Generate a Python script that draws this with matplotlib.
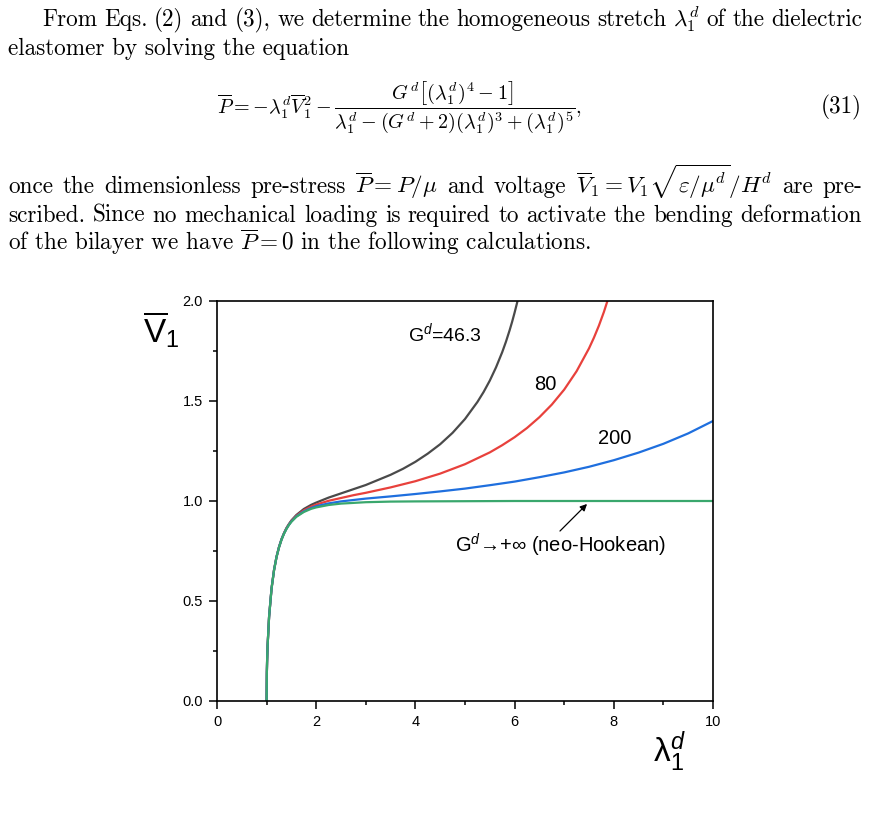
import matplotlib
matplotlib.use("Agg")
import matplotlib.pyplot as plt
from matplotlib.ticker import MultipleLocator, FormatStrFormatter

# curves V1(lambda)
lam_46 = [1.0, 1.005, 1.01, 1.02, 1.05, 1.1, 1.15, 1.2, 1.25, 1.3, 1.35, 1.4, 1.45, 1.5, 1.6, 1.75, 1.9, 2.0,
          2.25, 2.5, 3.0, 3.5, 3.75, 4.0, 4.25, 4.5, 4.75, 5.0, 5.25, 5.375, 5.5, 5.625, 5.75, 5.825, 5.9,
          5.95, 6.0, 6.05, 6.1]
v_46 = [0.0, 0.141, 0.198, 0.276, 0.421, 0.563, 0.655, 0.721, 0.770, 0.809, 0.839, 0.865, 0.885, 0.903, 0.930,
        0.960, 0.981, 0.992, 1.017, 1.038, 1.080, 1.131, 1.161, 1.196, 1.237, 1.284, 1.341, 1.410, 1.495, 1.545,
        1.602, 1.668, 1.744, 1.796, 1.854, 1.896, 1.942, 1.991, 2.045]

lam_80 = [1.0, 1.005, 1.01, 1.02, 1.05, 1.1, 1.15, 1.2, 1.25, 1.3, 1.35, 1.4, 1.45, 1.5, 1.6, 1.75, 1.9, 2.0,
          2.25, 2.5, 2.75, 3.0, 3.5, 4.0, 4.5, 5.0, 5.5, 5.75, 6.0, 6.25, 6.5, 6.75, 7.0, 7.25, 7.5, 7.6, 7.7,
          7.8, 7.9]
v_80 = [0.0, 0.141, 0.198, 0.276, 0.421, 0.563, 0.655, 0.720, 0.769, 0.807, 0.838, 0.863, 0.883, 0.900, 0.926,
        0.953, 0.972, 0.982, 1.001, 1.015, 1.029, 1.041, 1.068, 1.099, 1.137, 1.184, 1.243, 1.279, 1.319, 1.365,
        1.419, 1.482, 1.557, 1.649, 1.763, 1.817, 1.877, 1.945, 2.022]

lam_200 = [1.0, 1.005, 1.01, 1.02, 1.05, 1.1, 1.15, 1.2, 1.25, 1.3, 1.35, 1.4, 1.45, 1.5, 1.6, 1.75, 1.9, 2.0,
           2.25, 2.5, 3.0, 3.5, 4.0, 4.5, 5.0, 5.5, 6.0, 6.5, 7.0, 7.5, 8.0, 8.5, 9.0, 9.5, 10.0]
v_200 = [0.0, 0.141, 0.198, 0.276, 0.421, 0.563, 0.655, 0.720, 0.769, 0.807, 0.837, 0.861, 0.881, 0.898, 0.923,
         0.948, 0.965, 0.974, 0.988, 0.998, 1.012, 1.023, 1.035, 1.048, 1.062, 1.079, 1.097, 1.119, 1.143, 1.171,
         1.204, 1.242, 1.286, 1.338, 1.400]

lam_neo = [1.0, 1.005, 1.01, 1.02, 1.05, 1.1, 1.15, 1.2, 1.25, 1.3, 1.35, 1.4, 1.45, 1.5, 1.6, 1.75, 1.9, 2.0,
           2.25, 2.5, 3.0, 3.5, 4.0, 5.0, 6.0, 7.0, 8.0, 9.0, 10.0]
v_neo = [0.0, 0.141, 0.198, 0.276, 0.421, 0.563, 0.654, 0.720, 0.768, 0.806, 0.836, 0.860, 0.880, 0.896, 0.921,
         0.945, 0.961, 0.968, 0.980, 0.987, 0.994, 0.997, 0.998, 0.999, 1.000, 1.000, 1.000, 1.000, 1.000]

x_ticks = [0, 2, 4, 6, 8, 10]
y_ticks = [0.0, 0.5, 1.0, 1.5, 2.0]

line1 = ["From", "Eqs.", "(2)", "and", "(3),", "we", "determine", "the", "homogeneous", "stretch",
         r"$\lambda_1^d$", "of", "the", "dielectric"]
line2 = "elastomer by solving the equation"
line3 = ["once", "the", "dimensionless", "pre-stress", r"$\overline{P}=P/\mu$", "and", "voltage",
         r"$\overline{V}_1=V_1\sqrt{\varepsilon/\mu^d}/H^d$", "are", "pre-"]
line4 = ["scribed.", "Since", "no", "mechanical", "loading", "is", "required", "to", "activate", "the",
         "bending", "deformation"]
line5 = r"of the bilayer we have $\overline{P}=0$ in the following calculations."
equation = (r"$\overline{P}=-\lambda_1^d\overline{V}_1^2-\dfrac{G^d\left[(\lambda_1^d)^4-1\right]}"
            r"{\lambda_1^d-(G^d+2)(\lambda_1^d)^3+(\lambda_1^d)^5},$")

plt.rcParams['font.family'] = ['Liberation Sans', 'DejaVu Sans']
plt.rcParams['mathtext.fontset'] = 'custom'
plt.rcParams['mathtext.rm'] = 'Liberation Sans'
plt.rcParams['mathtext.it'] = 'Liberation Sans:italic'
plt.rcParams['mathtext.bf'] = 'Liberation Sans:bold'

W, H = 869, 814
fig = plt.figure(figsize=(W / 100, H / 100), dpi=100)


def fx(px):
    return px / W


def fy(py):
    return 1 - py / H


body_fs = 16.7
renderer = fig.canvas.get_renderer()


def body_text(x, y, s, fs=body_fs, **kw):
    return fig.text(fx(x), fy(y), s, fontsize=fs, family='cmr10', math_fontfamily='cm',
                    va='baseline', **kw)


def justified(tokens, x0, x1, ybase):
    items = [body_text(x0, ybase, t, ha='left') for t in tokens]
    widths = [it.get_window_extent(renderer).width for it in items]
    gap = (x1 - x0 - sum(widths)) / (len(items) - 1)
    x = x0
    for it, w in zip(items, widths):
        it.set_x(fx(x))
        x += w + gap


justified(line1, 42, 862, 26)
body_text(8, 55, line2, ha='left')
body_text(399, 113, equation, fs=14.5, ha='center')
body_text(862, 113, "(31)", ha='right')
justified(line3, 8, 862, 193)
justified(line4, 8, 862, 222)
body_text(8, 250, line5, ha='left')

# chart
ax = fig.add_axes([fx(217), fy(701), (713 - 217) / W, (701 - 301) / H])
ax.plot(lam_46, v_46, color='#4a4a4a', lw=1.6)
ax.plot(lam_80, v_80, color='#e8413c', lw=1.6)
ax.plot(lam_200, v_200, color='#1f6fde', lw=1.6)
ax.plot(lam_neo, v_neo, color='#3aa76d', lw=1.6)

ax.set_xlim(0, 10)
ax.set_ylim(0, 2)
ax.set_xticks(x_ticks)
ax.set_yticks(y_ticks)
ax.xaxis.set_minor_locator(MultipleLocator(1))
ax.yaxis.set_minor_locator(MultipleLocator(0.25))
ax.yaxis.set_major_formatter(FormatStrFormatter('%.1f'))
ax.tick_params(which='major', direction='out', length=6, width=1.1, labelsize=10.5, pad=4)
ax.tick_params(which='minor', direction='out', length=3, width=1.1)
for sp in ax.spines.values():
    sp.set_linewidth(1.2)

ax.text(3.85, 1.84, "G$^d$=46.3", fontsize=14, ha='left', va='center')
ax.text(6.61, 1.585, "80", fontsize=14.5, ha='center', va='center')
ax.text(8.02, 1.31, "200", fontsize=14.5, ha='center', va='center')
ax.annotate("G$^d$\u2192+\u221e (neo-Hookean)", xy=(7.5, 0.995), xytext=(4.8, 0.78),
            fontsize=14.5, ha='left', va='center')
ax.annotate("", xy=(7.5, 0.995), xytext=(6.875, 0.84),
            arrowprops=dict(arrowstyle='-|>', color='black', lw=0.9, mutation_scale=10))

fig.text(fx(143), fy(330), r"$\overline{\mathrm{V}}_1$", fontsize=24, ha='left', va='center')
fig.text(fx(653), fy(752), r"$\mathrm{\lambda}_1^d$", fontsize=24, ha='left', va='center')

fig.savefig("out.png", dpi=100)
